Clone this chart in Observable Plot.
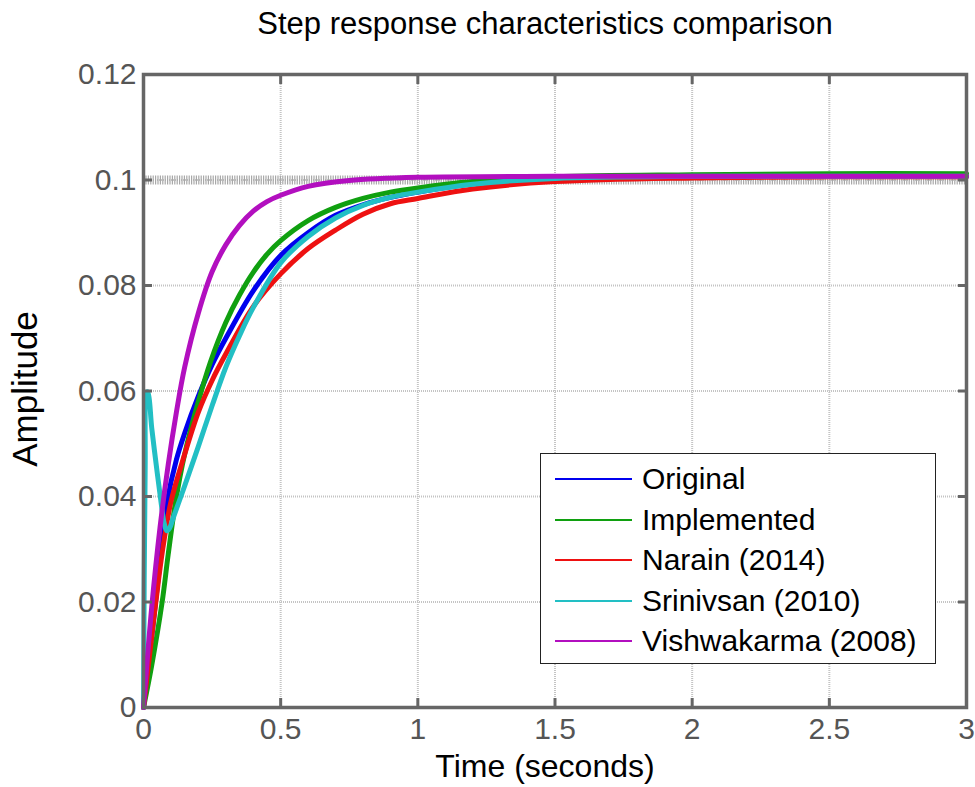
<!DOCTYPE html>
<html>
<head>
<meta charset="utf-8">
<script src="https://cdn.jsdelivr.net/npm/d3@7"></script>
<script src="https://cdn.jsdelivr.net/npm/@observablehq/plot@0.6"></script>
<style>
  body { margin: 0; background: #fff; font-family: "Liberation Sans", Arial, sans-serif; }
  #wrap { position: relative; width: 975px; height: 787px; background: #fff; }
  #title { position: absolute; top: 7px; left: 545px; transform: translateX(-50%); white-space: nowrap;
           font-size: 31px; color: #000; line-height: 34px; }
  #chart { position: absolute; top: 50px; left: 0; }
  #legend { position: absolute; left: 540px; top: 453px; width: 396px; height: 211px;
            border: 1.5px solid #222; background: #fff; box-sizing: border-box; }
  .row { position: absolute; left: 0; width: 100%; height: 34px; }
  .swatch { position: absolute; left: 14px; width: 77px; height: 2px; top: 16px; }
  .lab { position: absolute; left: 101px; top: 0; font-size: 30px; line-height: 34px; color: #000; white-space: nowrap; }
</style>
</head>
<body>
<div id="wrap">
  <div id="title">Step response characteristics comparison</div>
  <div id="chart"></div>
  <div id="legend"></div>
</div>
<script>
// Step responses (time in seconds, amplitude)
const seriesNames = ["Original", "Implemented", "Narain (2014)", "Srinivsan (2010)", "Vishwakarma (2008)"];
const seriesColors = ["#0000ee", "#10a010", "#ee1111", "#22bfc4", "#b20fbf"];

const timeOriginal = [0, 0.02, 0.044, 0.065, 0.086, 0.12, 0.15, 0.2, 0.25, 0.3, 0.4, 0.5, 0.6, 0.7, 0.8, 0.9, 1.0, 1.2, 1.5, 2.0, 2.5, 3.0];
const ampOriginal  = [0, 0.009, 0.020, 0.030, 0.039, 0.047, 0.052, 0.059, 0.065, 0.070, 0.079, 0.0857, 0.0900, 0.0933, 0.0953, 0.0967, 0.0977, 0.0993, 0.1003, 0.1007, 0.1007, 0.1007];

const timeImplemented = [0, 0.03, 0.068, 0.09, 0.117, 0.15, 0.2, 0.244, 0.3, 0.35, 0.4, 0.45, 0.5, 0.6, 0.7, 0.8, 0.9, 1.0, 1.2, 1.5, 2.0, 2.5, 3.0];
const ampImplemented  = [0, 0.008, 0.020, 0.029, 0.039, 0.048, 0.058, 0.0655, 0.0730, 0.0782, 0.0825, 0.0859, 0.0885, 0.0923, 0.0948, 0.0965, 0.0977, 0.0985, 0.0997, 0.1006, 0.1010, 0.1012, 0.1012];

const timeNarain = [0, 0.02, 0.045, 0.07, 0.1, 0.15, 0.2, 0.25, 0.3, 0.4, 0.5, 0.6, 0.7, 0.8, 0.9, 1.0, 1.2, 1.5, 2.0, 2.5, 3.0];
const ampNarain  = [0, 0.009, 0.020, 0.030, 0.039, 0.048, 0.056, 0.062, 0.067, 0.076, 0.0822, 0.0870, 0.0905, 0.0935, 0.0955, 0.0965, 0.0983, 0.0997, 0.1004, 0.1006, 0.1006];

const timeSrinivsan = [0, 0.006, 0.012, 0.016, 0.03, 0.05, 0.065, 0.075, 0.085, 0.095, 0.11, 0.15, 0.2, 0.25, 0.3, 0.35, 0.4, 0.5, 0.6, 0.7, 0.8, 0.9, 1.0, 1.2, 1.5, 2.0, 2.5, 3.0];
const ampSrinivsan  = [0, 0.045, 0.0598, 0.0598, 0.053, 0.0445, 0.0385, 0.0350, 0.0335, 0.0340, 0.0362, 0.0420, 0.0495, 0.0572, 0.0645, 0.0705, 0.0758, 0.0843, 0.0893, 0.0928, 0.0952, 0.0967, 0.0977, 0.0992, 0.1003, 0.1007, 0.1007, 0.1007];

const timeVishwakarma = [0, 0.03, 0.06, 0.09, 0.12, 0.15, 0.2, 0.25, 0.3, 0.35, 0.4, 0.45, 0.5, 0.6, 0.75, 1.0, 1.5, 2.0, 2.5, 3.0];
const ampVishwakarma  = [0, 0.019, 0.034, 0.046, 0.056, 0.0645, 0.0748, 0.0826, 0.0877, 0.0914, 0.0941, 0.0959, 0.0971, 0.0988, 0.0999, 0.1005, 0.1007, 0.1007, 0.1007, 0.1007];

const steadyState = 0.1;

const xTicks = [0, 0.5, 1, 1.5, 2, 2.5, 3];
const xTickLabels = ["0", "0.5", "1", "1.5", "2", "2.5", "3"];
const yTicks = [0, 0.02, 0.04, 0.06, 0.08, 0.1, 0.12];
const yTickLabels = ["0", "0.02", "0.04", "0.06", "0.08", "0.1", "0.12"];

const times = [timeOriginal, timeImplemented, timeNarain, timeSrinivsan, timeVishwakarma];
const amps = [ampOriginal, ampImplemented, ampNarain, ampSrinivsan, ampVishwakarma];
const rows = seriesNames.flatMap((name, s) => times[s].map((t, i) => ({series: name, t, a: amps[s][i]})));

const axisColor = "#666";
const labelColor = "#555";
const inwardTicks = {tickSize: -9, tickFormat: () => "", label: null, stroke: axisColor, strokeWidth: 3};

const chart = Plot.plot({
  width: 975,
  height: 737,
  marginTop: 24,
  marginBottom: 80,
  marginLeft: 143,
  marginRight: 9,
  style: {fontFamily: "'Liberation Sans', Arial, sans-serif", fontSize: "30px", background: "#fff"},
  x: {domain: [0, 3]},
  y: {domain: [0, 0.12]},
  color: {domain: seriesNames, range: seriesColors},
  marks: [
    Plot.gridX({ticks: xTicks.slice(1, -1), stroke: "#c4c4c4", strokeOpacity: 1, strokeWidth: 2, strokeDasharray: "1,1"}),
    Plot.gridY({ticks: yTicks.slice(1, -1), stroke: "#c4c4c4", strokeOpacity: 1, strokeWidth: 2, strokeDasharray: "1,1"}),
    Plot.ruleY([steadyState], {stroke: "#a8a8a8", strokeWidth: 9, strokeDasharray: "1.2,1.2"}),
    Plot.line(rows, {x: "t", y: "a", z: "series", stroke: "series", strokeWidth: 5, curve: "catmull-rom", strokeLinejoin: "round", strokeLinecap: "round"}),
    Plot.frame({stroke: axisColor, strokeWidth: 3.5}),
    // inward tick marks on all four sides
    Plot.axisX({anchor: "bottom", ticks: xTicks, ...inwardTicks}),
    Plot.axisX({anchor: "top", ticks: xTicks, ...inwardTicks}),
    Plot.axisY({anchor: "left", ticks: yTicks, ...inwardTicks}),
    Plot.axisY({anchor: "right", ticks: yTicks, ...inwardTicks}),
    // tick labels
    Plot.axisX({anchor: "bottom", ticks: xTicks, tickSize: 0, tickPadding: 10, tickFormat: (d) => xTickLabels[xTicks.indexOf(d)], fill: labelColor, fontSize: 30, label: null}),
    Plot.axisY({anchor: "left", ticks: yTicks, tickSize: 0, tickPadding: 7, tickFormat: (d) => yTickLabels[yTicks.indexOf(d)], fill: labelColor, fontSize: 30, label: null}),
    // axis titles
    Plot.text(["Time (seconds)"], {frameAnchor: "bottom", dx: -10, dy: 69, fontSize: 32, fill: "#000"}),
    Plot.text(["Amplitude"], {frameAnchor: "left", textAnchor: "middle", dx: -118, dy: -2, rotate: -90, fontSize: 35, fill: "#000"})
  ]
});
document.getElementById("chart").appendChild(chart);

// legend box
const legend = d3.select("#legend");
seriesNames.forEach((name, i) => {
  const row = legend.append("div").attr("class", "row").style("top", `${Math.round(8 + i * 40.5)}px`);
  row.append("div").attr("class", "swatch").style("background", seriesColors[i]);
  row.append("div").attr("class", "lab").text(name);
});
</script>
</body>
</html>
